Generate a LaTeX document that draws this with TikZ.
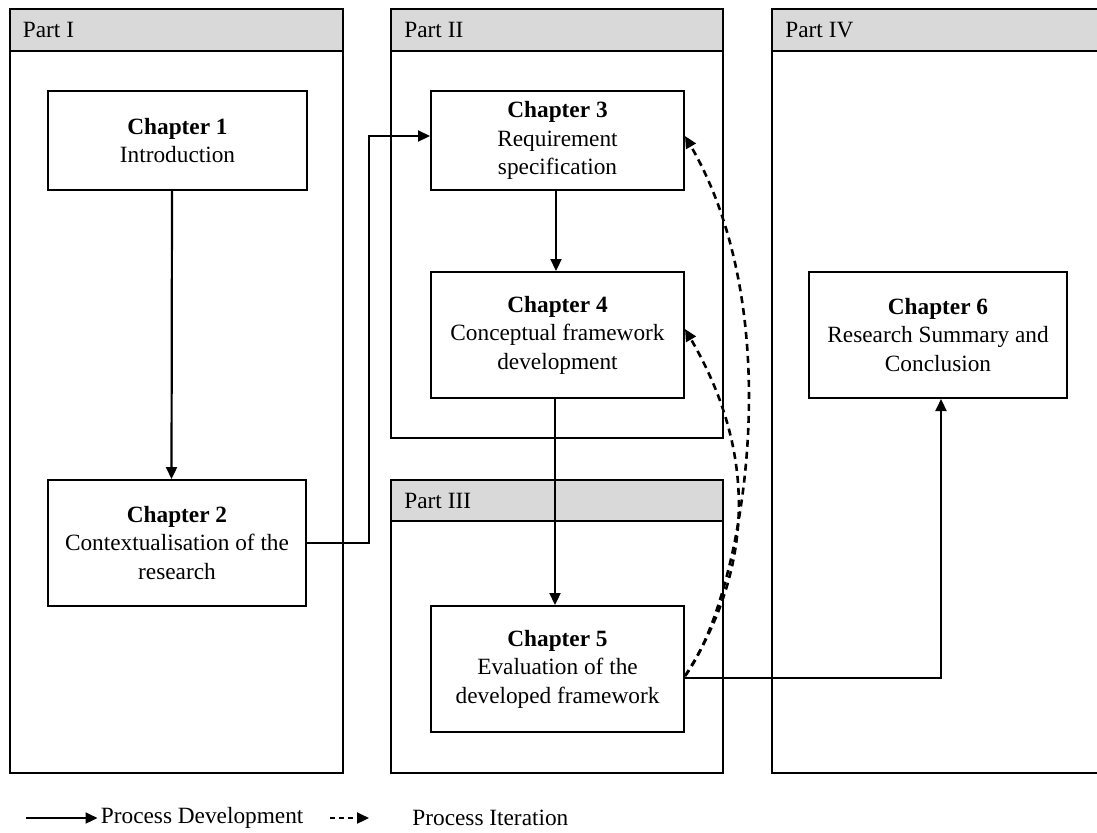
\documentclass[tikz,border=0pt]{standalone}
\usepackage{fontspec}
\setmainfont{Liberation Serif}
\usetikzlibrary{arrows.meta}
\definecolor{headgray}{HTML}{D9D9D9}
\newcommand\myfont{\fontsize{11.65}{14.2}\selectfont}
\begin{document}
\begin{tikzpicture}[x=0.5pt,y=-0.5pt,
  panel/.style={draw,line width=0.8pt},
  head/.style={draw,line width=0.8pt,fill=headgray},
  ptitle/.style={anchor=west,inner sep=0pt,font=\myfont},
  chap/.style={draw,line width=1pt,align=center,inner sep=2pt,font=\myfont},
  dev/.style={line width=1.1pt,-{Triangle[length=6pt,width=5.5pt]}},
  iter/.style={line width=1.3pt,dash pattern=on 3.5pt off 2.5pt,-{Triangle[length=6pt,width=5.5pt]}},
  legend/.style={anchor=west,inner sep=0pt,font=\myfont}
]
\clip (0,0) rectangle (1097,832);
% panels
\draw[panel] (10,9) rectangle (343,773);
\draw[head] (10,9) rectangle (343,51);
\node[ptitle] (p1) at (22.5,30) {Part I};
\draw[panel] (391,9) rectangle (723,438);
\draw[head] (391,9) rectangle (723,51);
\node[ptitle] (p2) at (404,30) {Part II};
\draw[panel] (391,480) rectangle (723,773);
\draw[head] (391,480) rectangle (723,521);
\node[ptitle] (p3) at (404,500.5) {Part III};
\draw[panel] (772,9) rectangle (1115,773);
\draw[head] (772,9) rectangle (1115,51);
\node[ptitle] (p4) at (785,30) {Part IV};
% chapters
\node[chap,minimum width=129.5pt,minimum height=49.5pt] (c1) at (177.5,140.5) {\textbf{Chapter 1}\\Introduction};
\node[chap,minimum width=129pt,minimum height=63pt] (c2) at (177,543) {\textbf{Chapter 2}\\Contextualisation of the\\research};
\node[chap,minimum width=126.5pt,minimum height=49.5pt] (c3) at (557.5,140.5) {\textbf{Chapter 3}\\Requirement\\specification};
\node[chap,minimum width=126.5pt,minimum height=63pt] (c4) at (557.5,335) {\textbf{Chapter 4}\\Conceptual framework\\development};
\node[chap,minimum width=126.5pt,minimum height=63pt] (c5) at (557.5,669) {\textbf{Chapter 5}\\Evaluation of the\\developed framework};
\node[chap,minimum width=129pt,minimum height=63pt] (c6) at (938,335) {\textbf{Chapter 6}\\Research Summary and\\Conclusion};
% development connectors
\draw[dev] ([xshift=-2.75pt]c1.south) -- ([xshift=-2.75pt]c2.north);
\coordinate (j23) at (369,543);
\draw[dev] (c2.east) -- (j23) |- ([yshift=2.25pt]c3.west);
\draw[dev] ([xshift=-0.75pt]c3.south) -- ([xshift=-0.75pt]c4.north);
\draw[dev] ([xshift=-1.25pt]c4.south) -- ([xshift=-1.25pt]c5.north);
\draw[dev] ([yshift=-4.5pt]c5.east) -| ([xshift=1.5pt]c6.south);
% iteration connectors
\draw[iter] ([yshift=-3.5pt]c5.east) .. controls (742,600) and (792,320) .. ([yshift=2.25pt]c3.east);
\draw[iter] ([yshift=-3.5pt]c5.east) .. controls (749,577) and (762,461) .. ([yshift=3pt]c4.east);
% legend
\node[legend] (ld) at (100.5,818) {Process Development};
\coordinate (ls) at (26,818);
\draw[dev] (ls) -- ([xshift=-1.5pt]ld.west);
\node[legend] (li) at (412,818) {Process Iteration};
\coordinate (lis) at (330,818);
\coordinate (lie) at (369,818);
\draw[iter,line width=1.1pt,dash pattern=on 2.6pt off 1.9pt] (lis) -- (lie);
\end{tikzpicture}
\end{document}
